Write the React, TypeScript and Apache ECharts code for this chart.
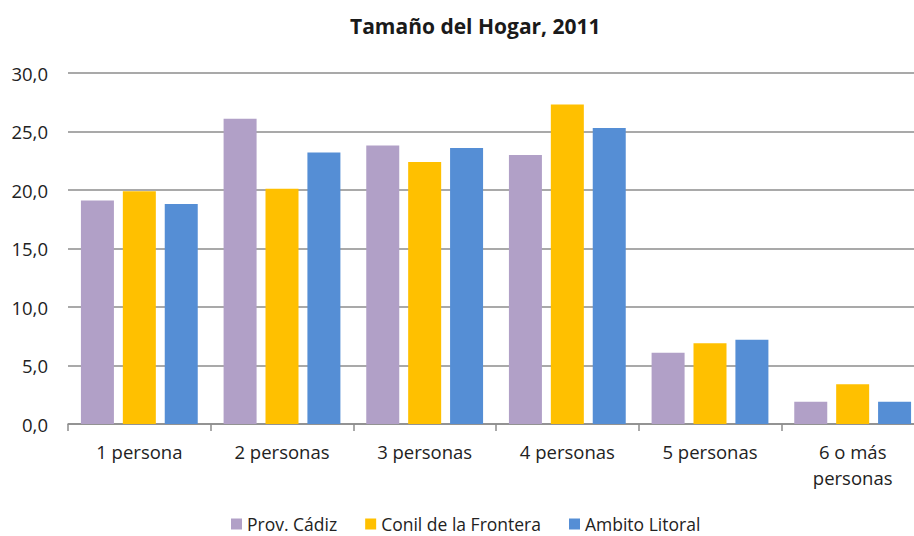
import React, { useEffect, useRef } from "react";
import * as echarts from "echarts";

const categories = ["1 persona", "2 personas", "3 personas", "4 personas", "5 personas", "6 o más personas"];
const seriesNames = ["Prov. Cádiz", "Conil de la Frontera", "Ambito Litoral"];
const cadiz = [19.1, 26.1, 23.8, 23.0, 6.1, 1.9];
const conil = [19.9, 20.1, 22.4, 27.3, 6.9, 3.4];
const litoral = [18.8, 23.2, 23.6, 25.3, 7.2, 1.9];
const colors = ["#B1A0C7", "#FFC000", "#558ED5"];

export default function App() {
  const ref = useRef<HTMLDivElement>(null);
  useEffect(() => {
    document.body.style.margin = "0";
    if (!ref.current) return;
    const chart = echarts.init(ref.current, undefined, { renderer: "svg" });
    const font = "'Open Sans', sans-serif";
    const values = [cadiz, conil, litoral];
    chart.setOption({
      animation: false,
      backgroundColor: "#ffffff",
      textStyle: { fontFamily: font },
      title: {
        text: "Tamaño del Hogar, 2011",
        left: 345,
        top: 10,
        textStyle: { fontFamily: font, fontSize: 21, fontWeight: "bold", color: "#1a1a1a" },
      },
      legend: {
        data: seriesNames,
        left: 226,
        top: 510,
        icon: "rect",
        itemWidth: 11,
        itemHeight: 11,
        itemGap: 28,
        textStyle: { fontFamily: font, fontSize: 17.5, color: "#222" },
      },
      grid: { left: 68, top: 73, width: 856, height: 351, containLabel: false },
      xAxis: {
        type: "category",
        data: categories,
        axisLine: { lineStyle: { color: "#8c8c8c", width: 1.5 } },
        axisTick: { show: true, length: 7, lineStyle: { color: "#8c8c8c", width: 1.5 } },
        axisLabel: {
          fontFamily: font,
          fontSize: 18.5,
          color: "#222",
          margin: 14,
          lineHeight: 26,
          interval: 0,
          formatter: (v: string) => (v === "6 o más personas" ? "6 o más\npersonas" : v),
        },
      },
      yAxis: {
        type: "value",
        min: 0,
        max: 30,
        interval: 5,
        axisLine: { show: false },
        axisTick: { show: false },
        axisLabel: {
          fontFamily: font,
          fontSize: 18.5,
          color: "#222",
          margin: 20,
          formatter: (v: number) => v.toFixed(1).replace(".", ","),
        },
        splitLine: { lineStyle: { color: "#8c8c8c", width: 1.5 } },
      },
      series: seriesNames.map((name, i) => ({
        name,
        type: "bar",
        data: values[i],
        barWidth: 33,
        barGap: "27%",
        itemStyle: { color: colors[i] },
      })),
    });
    return () => chart.dispose();
  }, []);
  return (
    <div style={{ width: 914, height: 536, position: "absolute", left: 0, top: 0, overflow: "hidden" }}>
      <div ref={ref} style={{ width: 930, height: 536 }} />
    </div>
  );
}
